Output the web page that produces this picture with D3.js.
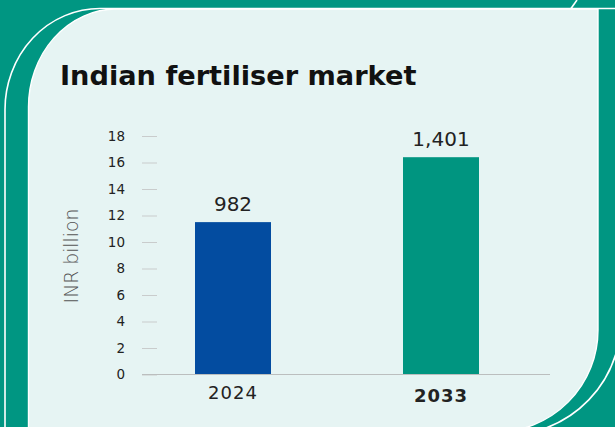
<!DOCTYPE html>
<html>
<head>
<meta charset="utf-8">
<script src="https://cdn.jsdelivr.net/npm/d3@7"></script>
<style>
  body { margin: 0; background: #009682; }
  svg { display: block; }
  text { font-family: "DejaVu Sans", sans-serif; }
</style>
</head>
<body>
<svg></svg>
<script>
var years = ["2024", "2033"];
var barValues = [11.5, 16.4];
var valueLabels = ["982", "1,401"];
var yTicks = [0, 2, 4, 6, 8, 10, 12, 14, 16, 18];
var barColors = ["#034ca0", "#009580"];

var width = 615, height = 427;

var svg = d3.select("svg")
    .attr("width", width)
    .attr("height", height);

// background frame
svg.append("rect")
    .attr("width", width).attr("height", height)
    .attr("fill", "#009682");

svg.append("path")
    .attr("d", "M5,440 V110 A95 101 0 0 1 100,8.5 H615")
    .attr("fill", "none").attr("stroke", "#fff").attr("stroke-width", 1.6);

svg.append("path")
    .attr("d", "M571,8.5 L577,0")
    .attr("fill", "none").attr("stroke", "#fff").attr("stroke-width", 1.6);

svg.append("path")
    .attr("d", "M617,350 A115 115 0 0 1 540,430")
    .attr("fill", "none").attr("stroke", "#fff").attr("stroke-width", 1.6);

svg.append("path")
    .attr("d", "M28.5,440 V107 A88 98 0 0 1 116,9 H598 V330 A102 102 0 0 1 496,432 V440 Z")
    .attr("fill", "#e6f4f3").attr("stroke", "#fff").attr("stroke-width", 1.4);

svg.append("text")
    .attr("x", 60).attr("y", 85)
    .attr("font-size", 27.2).attr("font-weight", "bold")
    .attr("fill", "#111")
    .text("Indian fertiliser market");

var x = d3.scalePoint()
    .domain(years)
    .range([233, 441]);
var barWidth = 76;

var y = d3.scaleLinear()
    .domain([0, 18])
    .range([374.5, 136]);

var yAxis = svg.append("g")
    .attr("transform", "translate(157,0)")
    .call(d3.axisLeft(y).tickValues(yTicks).tickSize(15).tickPadding(17));
yAxis.select(".domain").remove();
yAxis.selectAll(".tick line").attr("stroke", "#c9cccc");
yAxis.selectAll(".tick text")
    .attr("font-family", "DejaVu Sans").attr("font-size", 13.5).attr("fill", "#222");

svg.append("text")
    .attr("transform", "translate(78,256) rotate(-90)")
    .attr("text-anchor", "middle")
    .attr("font-family", "Lato").attr("font-weight", 300)
    .attr("font-size", 18.8).attr("fill", "#555")
    .text("INR billion");

svg.selectAll(".bar")
    .data(years)
    .enter().append("rect")
    .attr("x", function(d) { return x(d) - barWidth / 2; })
    .attr("y", function(d, i) { return y(barValues[i]); })
    .attr("width", barWidth)
    .attr("height", function(d, i) { return y(0) - y(barValues[i]); })
    .attr("fill", function(d, i) { return barColors[i]; });

svg.append("line")
    .attr("x1", 142).attr("x2", 550)
    .attr("y1", y(0)).attr("y2", y(0))
    .attr("stroke", "#bbbebe").attr("stroke-width", 1);

svg.selectAll(".vlabel")
    .data(years)
    .enter().append("text")
    .attr("x", function(d) { return x(d); })
    .attr("y", function(d, i) { return y(barValues[i]) - 11; })
    .attr("text-anchor", "middle")
    .attr("font-family", "Lato").attr("font-size", 20).attr("fill", "#222")
    .text(function(d, i) { return valueLabels[i]; });

svg.selectAll(".xlabel")
    .data(years)
    .enter().append("text")
    .attr("x", function(d) { return x(d); })
    .attr("y", function(d, i) { return i === 1 ? 401.5 : 399; })
    .attr("text-anchor", "middle")
    .attr("font-size", 18)
    .attr("letter-spacing", 1)
    .attr("font-weight", function(d, i) { return i === 1 ? "bold" : "normal"; })
    .attr("fill", "#222")
    .text(function(d) { return d; });
</script>
</body>
</html>
